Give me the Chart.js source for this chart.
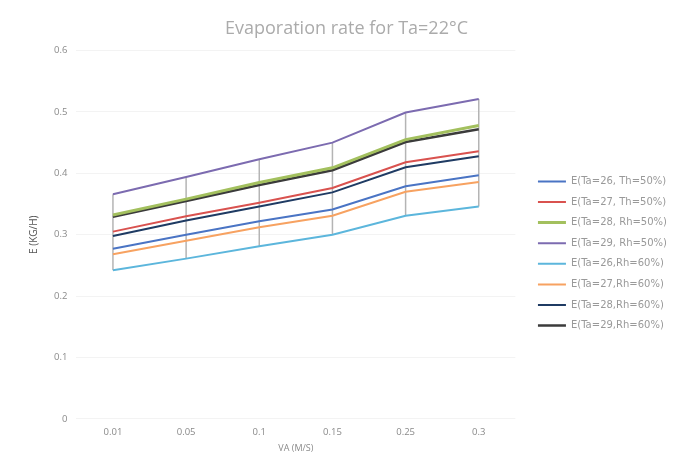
<!DOCTYPE html>
<html><head><meta charset="utf-8">
<script src="https://cdn.jsdelivr.net/npm/chart.js@4.4.0/dist/chart.umd.min.js"></script>
<style>html,body{margin:0;padding:0;background:#fff;}#wrap{width:685px;height:469px;position:relative;}</style>
</head><body><div id="wrap"><canvas id="c" width="685" height="469"></canvas></div>
<script>
const categories = ["0.01","0.05","0.1","0.15","0.25","0.3"];
const seriesNames = ["E(Ta=26, Th=50%)","E(Ta=27, Th=50%)","E(Ta=28, Rh=50%)","E(Ta=29, Rh=50%)","E(Ta=26,Rh=60%)","E(Ta=27,Rh=60%)","E(Ta=28,Rh=60%)","E(Ta=29,Rh=60%)"];
const ta26rh50 = [0.277,0.300,0.322,0.341,0.379,0.397];
const ta27rh50 = [0.305,0.330,0.352,0.376,0.418,0.436];
const ta28rh50 = [0.332,0.358,0.385,0.409,0.455,0.478];
const ta29rh50 = [0.366,0.394,0.423,0.450,0.499,0.521];
const ta26rh60 = [0.242,0.261,0.281,0.300,0.331,0.346];
const ta27rh60 = [0.268,0.290,0.312,0.331,0.370,0.386];
const ta28rh60 = [0.298,0.323,0.346,0.369,0.410,0.428];
const ta29rh60 = [0.329,0.355,0.381,0.405,0.451,0.472];
const yTicks = [0,0.1,0.2,0.3,0.4,0.5,0.6];

const seriesData = [ta26rh50,ta27rh50,ta28rh50,ta29rh50,ta26rh60,ta27rh60,ta28rh60,ta29rh60];
const colors = ["#4a74c4","#d9524f","#a3c05e","#7c6bb0","#5cb6dc","#f7a261","#1f3b63","#3b3b3b"];
const widths = [2,2,3,2,2,2,2,2.5];

const hiLow = {
  id:'hiLow',
  beforeDatasetsDraw(chart){
    const {ctx, scales:{x,y}} = chart;
    ctx.save();
    ctx.strokeStyle = '#b4b4b4';
    ctx.lineWidth = 1.5;
    categories.forEach((c,i)=>{
      const vals = seriesData.map(s=>s[i]);
      const px = x.getPixelForValue(i);
      ctx.beginPath();
      ctx.moveTo(px, y.getPixelForValue(Math.max(...vals)));
      ctx.lineTo(px, y.getPixelForValue(Math.min(...vals)));
      ctx.stroke();
    });
    ctx.restore();
  }
};
const legendShift = {
  id:'legendShift',
  afterLayout(chart){
    const lg = chart.legend;
    if(!lg) return;
    const dx = 12, dy = 26.5;
    lg.left += dx; lg.right += dx; lg.top += dy; lg.bottom += dy;
  }
};

const font = "'Open Sans', sans-serif";
new Chart(document.getElementById('c'), {
  type:'line',
  data:{
    labels:categories,
    datasets: seriesData.map((d,i)=>({
      label:seriesNames[i], data:d, borderColor:colors[i], backgroundColor:colors[i],
      borderWidth:widths[i], pointRadius:0, tension:0, fill:false
    }))
  },
  options:{
    responsive:false, animation:false,
    layout:{padding:{left:28,right:20,top:0,bottom:15}},
    plugins:{
      title:{display:true,text:'Evaporation rate for Ta=22°C',color:'#ababab',font:{family:font,size:18,weight:'normal'},padding:{top:18,bottom:11}},
      legend:{position:'right',align:'center',
        labels:{usePointStyle:true,pointStyle:'line',pointStyleWidth:28,color:'#999',font:{family:"'DejaVu Sans', sans-serif",size:10},padding:10.6}},
      tooltip:{enabled:false}
    },
    scales:{
      x:{offset:true,
        grid:{display:false,drawTicks:false},
        border:{display:false},
        ticks:{color:'#8a8a8a',font:{family:font,size:9.5},padding:8},
        title:{display:true,text:'VA (M/S)',color:'#8a8a8a',font:{family:font,size:9},padding:{top:-3,bottom:0}}
      },
      y:{min:0,max:0.6,
        afterBuildTicks(ax){ax.ticks = yTicks.map(v=>({value:v}));},
        grid:{color:'#f3f3f3',drawTicks:false},
        border:{display:false},
        ticks:{color:'#8a8a8a',font:{family:font,size:9.5},padding:9,callback:(v)=>String(Math.round(v*10)/10)},
        title:{display:true,text:'E (KG/H)',color:'#555',font:{family:font,size:10},padding:{top:0,bottom:5}}
      }
    }
  },
  plugins:[hiLow, legendShift]
});
</script></body></html>
